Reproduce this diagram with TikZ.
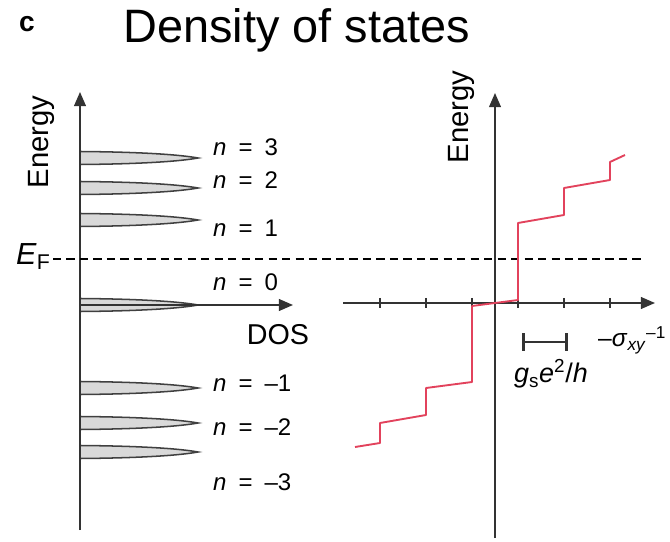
\documentclass[tikz,border=0pt]{standalone}
\usepackage{fontspec}
\setmainfont{Liberation Sans}
\usetikzlibrary{arrows.meta}
\definecolor{stairred}{RGB}{226,66,92}
\colorlet{axisgray}{black!80}
\colorlet{peakfill}{black!15}
\colorlet{peakdraw}{black!75}
\newcommand{\fs}[1]{\fontsize{#1}{#1}\selectfont}

\begin{document}
\begin{tikzpicture}[x=0.03cm,y=-0.03cm,
    axis/.style={draw=axisgray,line width=1.5pt,-{Triangle[length=12pt,width=10pt]}},
    tickmark/.style={draw=axisgray,line width=1pt},
    lvl/.style={font=\fs{20.5},anchor=west,inner sep=0pt},
    axlab/.style={font=\fs{25},inner sep=0pt,rotate=90,anchor=base},
    peak/.style={fill=peakfill,draw=peakdraw,line width=1.3pt},
    fermi/.style={line width=2pt,dash pattern=on 7pt off 4.5pt},
    stairs/.style={draw=stairred,line width=1.6pt,line join=round}]
    \useasboundingbox (0,0) rectangle (670,542);
    \node[font=\fs{24}\bfseries,inner sep=0pt,anchor=base] (tag) at (27,32) {c};
    \node[font=\fs{40},inner sep=0pt,anchor=base west] (title) at (123,43) {Density of states};
    % left panel: DOS
    \coordinate (lbot) at (80,530);
    \coordinate (ltop) at (80,92);
    \coordinate (lo) at (80,305);
    \coordinate (ldos) at (293,305);
    \foreach \y in {158,188,220,305,388,423,452}{
      \draw[peak] (80,\y-6.5) .. controls (145,\y-6) and (182,\y-3) .. (198,\y)
        .. controls (182,\y+3) and (145,\y+6) .. (80,\y+6.5);}
    \draw[axis] (lbot)--(ltop);
    \draw[axis] (lo)--(ldos);
    \foreach \v/\y/\nm in {3/147/n3,2/180/n2,1/228/n1,0/282/n0,–1/383/m1,–2/427/m2,–3/482/m3}{
      \node[lvl] (\nm) at (213,\y) {\textit{n}\enspace=\enspace\v};}
    \node[font=\fs{24.5},inner sep=0pt] (dos) at (278,335) {DOS};
    \node[axlab] (lenergy) at (48,142) {Energy};
    \node[font=\fs{26},inner sep=0pt,anchor=base west] (ef) at (16,265) {\textit{E}\textsubscript{F}};
    \coordinate (efl) at (53,259);
    \coordinate (efr) at (645,259);
    \draw[fermi] (efl)--(efr);
    % right panel: Hall conductivity
    \coordinate (rbot) at (495,538);
    \coordinate (rtop) at (495,93);
    \coordinate (rleft) at (343,303);
    \coordinate (rright) at (655,303);
    \draw[axis] (rbot)--(rtop);
    \draw[axis] (rleft)--(rright);
    \foreach \dx in {-115,-69,-23,23,69,115}{\draw[tickmark] (495+\dx,298)--(495+\dx,308);}
    \node[axlab] (renergy) at (468,117) {Energy};
    \draw[stairs] (355,447)--(380,443)--(380,423)--(426,415)--(426,388)--(472,382)--(472,306)
      --(518,300)--(518,223)--(564,215)--(564,188)--(610,180)--(610,162)--(625,155);
    \coordinate (sbl) at (522,342);
    \coordinate (sbr) at (568,342);
    \draw[axisgray,line width=2.4pt,{Bar[width=15pt]}-{Bar[width=15pt]}] (sbl)--(sbr);
    \node[font=\fs{23},inner sep=0pt,anchor=base] (unit) at (551,383) {\textit{g}\textsubscript{s}\textit{e}\textsuperscript{2}/\textit{h}};
    \node[font=\fs{21},inner sep=0pt,anchor=base west] (sxy) at (598,347) {–\textit{σ}\textsubscript{\textit{xy}}\textsuperscript{–1}};
\end{tikzpicture}
\end{document}
